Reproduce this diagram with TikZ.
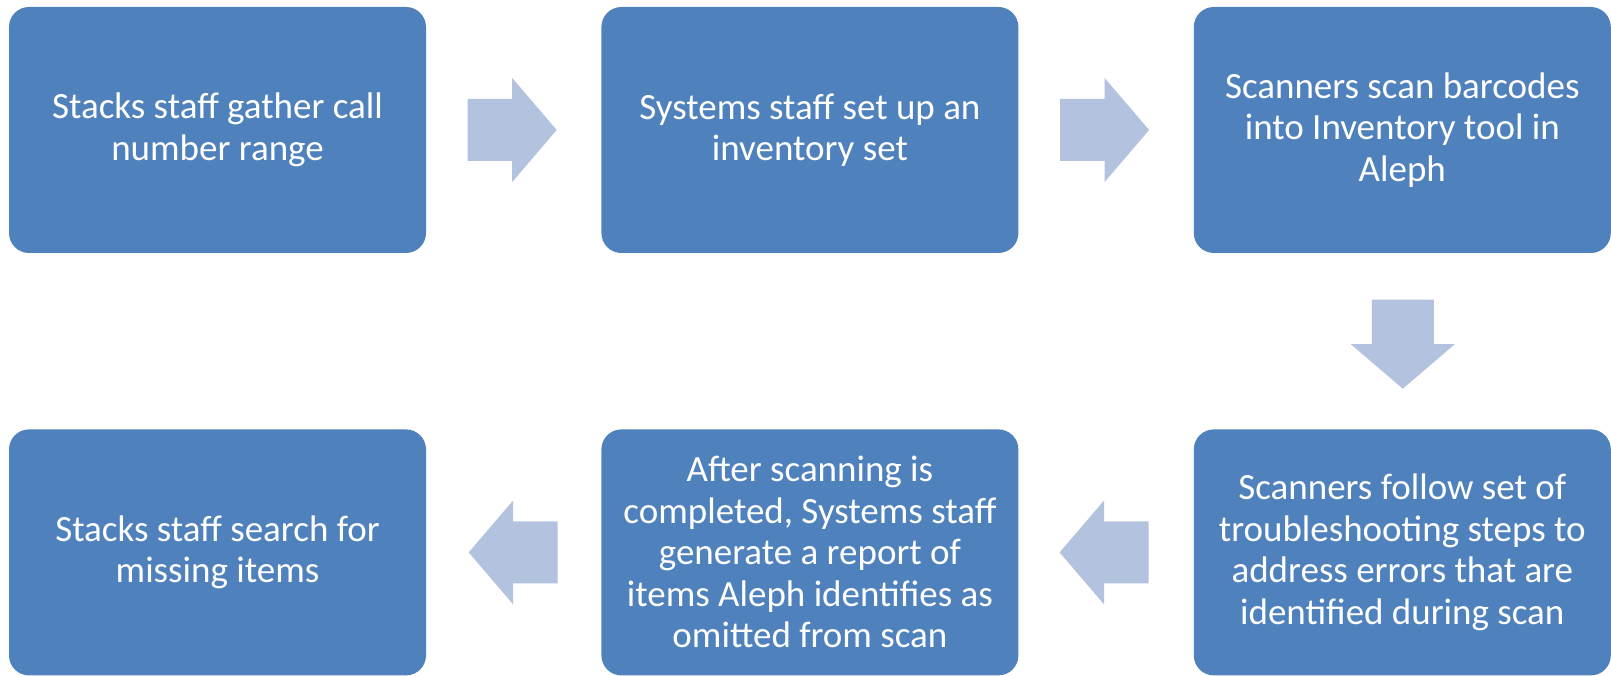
\documentclass[tikz,border=0pt]{standalone}
\usepackage{fontspec}
\setmainfont{Carlito}
\usetikzlibrary{positioning, calc}

\definecolor{boxblue}{HTML}{4F81BD}
\definecolor{arrowblue}{HTML}{B3C2DE}

\tikzset{
    stepbox/.style={fill=boxblue, rounded corners=20pt, minimum width=417pt,
        minimum height=246pt, text=white, align=center, inner sep=0pt,
        font=\fontsize{37}{41.5}\selectfont},
    blockarrow/.pic={
        \fill[arrowblue] (-44.5,-31) -- (0,-31) -- (0,-52) -- (44.5,0)
            -- (0,52) -- (0,31) -- (-44.5,31) -- cycle;
    }
}

\begin{document}
\begin{tikzpicture}[x=1pt, y=1pt, node distance=175pt]
    \useasboundingbox (0,0) rectangle (1611,675);

    % top row, left to right
    \node[stepbox] (gather) at (217.5,545) {Stacks staff gather call\\number range};
    \node[stepbox, right=of gather] (setup) {Systems staff set up an\\inventory set};
    \node[stepbox, right=of setup] (scan) {Scanners scan barcodes\\into Inventory tool in\\Aleph};

    % bottom row, right to left
    \node[stepbox, below=176pt of scan] (trouble) {Scanners follow set of\\troubleshooting steps to\\address errors that are\\identified during scan};
    \node[stepbox, left=of trouble] (report) {After scanning is\\completed, Systems staff\\generate a report of\\items Aleph identifies as\\omitted from scan};
    \node[stepbox, left=of report] (search) {Stacks staff search for\\missing items};

    % block arrows between the steps
    \pic at ($(gather.east)!0.5!(setup.west)+(-1.5,0)$) {blockarrow};
    \pic at ($(setup.east)!0.5!(scan.west)+(-1.5,0)$) {blockarrow};
    \pic[rotate=-90] at ($(scan.south)!0.5!(trouble.north)+(0.5,-3)$) {blockarrow};
    \pic[rotate=180] at ($(trouble.west)!0.5!(report.east)+(-2,0)$) {blockarrow};
    \pic[rotate=180] at ($(report.west)!0.5!(search.east)+(-0.5,0)$) {blockarrow};
\end{tikzpicture}
\end{document}
